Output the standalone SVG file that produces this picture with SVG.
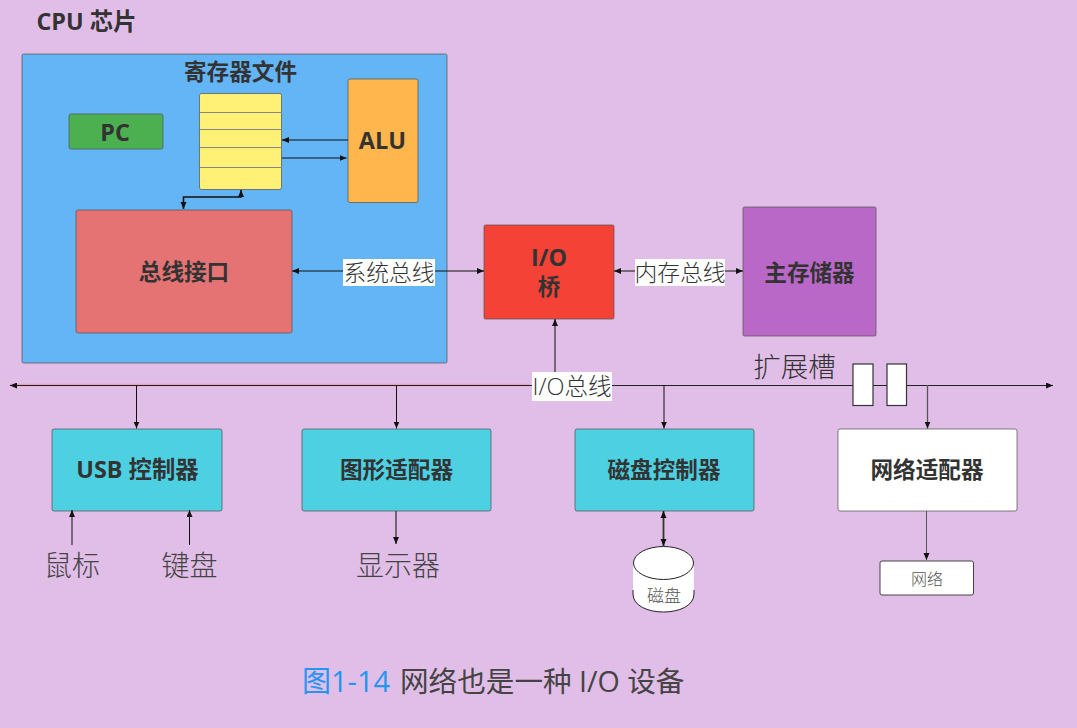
<svg xmlns="http://www.w3.org/2000/svg" width="1077" height="728" viewBox="0 0 1077 728">
<style>
text{font-family:"Open Sans","Noto Sans","Noto Sans CJK SC","Liberation Sans",sans-serif;fill:#333;text-anchor:middle}
.b{font-weight:700;font-size:22.600px}
.bl{font-weight:700;font-size:23.400px}
.l{font-size:28px;font-weight:300;fill:#444}
.s{font-size:22.800px;font-weight:300;fill:#333}
.box{stroke:#555;stroke-width:1;stroke-opacity:.75}
.c{fill:none;stroke:#111;stroke-width:1}
.m{marker-end:url(#a)}
.ms{marker-start:url(#as)}
</style>
<defs>
<marker id="a" markerWidth="8" markerHeight="8" refX="7" refY="3" orient="auto" markerUnits="userSpaceOnUse"><path d="M0 0L7 3L0 6z" fill="#111"/></marker>
<marker id="as" markerWidth="8" markerHeight="8" refX="0" refY="3" orient="auto" markerUnits="userSpaceOnUse"><path d="M7 0L0 3L7 6z" fill="#111"/></marker>
</defs>
<rect width="1077" height="728" fill="#e1bee7"/>
<text id="cpu" x="86.500" y="30" class="bl">CPU 芯片</text>
<g id="cpu-chip"><rect x="22" y="54" width="425" height="309" rx="1.500" fill="#64b5f6" class="box"/></g>
<text x="240.500" y="80" class="b">寄存器文件</text>
<g id="pc"><rect x="69" y="114" width="94" height="35" rx="2" fill="#4caf50" class="box"/><text x="115" y="141" class="bl">PC</text></g>
<g id="regfile">
<rect x="199.500" y="93.500" width="82" height="96" rx="2" fill="#fff176" class="box"/>
<path d="M199.500 112.500H281.500M199.500 129.500H281.500M199.500 147.500H281.500M199.500 167.500H281.500" stroke="#888" fill="none"/>
</g>
<g id="alu"><rect x="348" y="79" width="70" height="123.500" rx="2" fill="#ffb74d" class="box"/><text x="382.500" y="149" font-size="23.500" font-weight="700">ALU</text></g>
<g id="bus-if"><rect x="76" y="210" width="216" height="123" rx="2" fill="#e57373" class="box"/><text x="184" y="280" class="b">总线接口</text></g>
<g id="io-bridge"><rect x="484" y="225" width="130" height="94" rx="1.500" fill="#f44336" class="box"/><text x="549" y="266" class="bl">I/O</text><text x="549" y="295" class="b">桥</text></g>
<g id="memory"><rect x="743" y="207" width="133" height="129" rx="1.500" fill="#ba68c8" class="box"/><text x="809.500" y="281" class="b">主存储器</text></g>
<g id="usb"><rect x="52" y="429" width="170" height="82" rx="2" fill="#4dd0e1" class="box"/><text x="137.500" y="478" class="bl">USB 控制器</text></g>
<g id="gfx"><rect x="302" y="429" width="189" height="82" rx="2" fill="#4dd0e1" class="box"/><text x="396.500" y="478" class="b">图形适配器</text></g>
<g id="disk-ctl"><rect x="575" y="429" width="179" height="82" rx="2" fill="#4dd0e1" class="box"/><text x="664" y="478" class="b">磁盘控制器</text></g>
<g id="net-ad"><rect x="838" y="429" width="179" height="82" rx="2" fill="#fff" class="box"/><text x="927" y="478" class="b">网络适配器</text></g>
<g id="net"><rect x="880" y="561" width="93.500" height="34" rx="2" fill="#fff" stroke="#444" stroke-width="1"/><text x="927" y="585" font-size="16" font-weight="300" style="fill:#555">网络</text></g>
<g id="disk">
<path d="M633 564V594C633 618 694 618 694 594V564z" fill="#fff"/>
<path d="M633 590V594C633 618 694 618 694 594V590" fill="none" stroke="#222"/>
<ellipse cx="663.500" cy="563" rx="30" ry="16.500" fill="#fff" stroke="#222" stroke-width="1"/>
<text x="664" y="602" font-size="17" font-weight="300" style="fill:#555">磁盘</text>
</g>
<g id="connectors">
<path class="c m" d="M348 140H282" stroke-width="1.300"/>
<path class="c m" d="M282 158H346.500"/>
<path class="c m ms" d="M241 190V197H183.500V209" style="stroke-width:1.600"/>
<path class="c m ms" d="M292 271H484"/>
<path class="c m ms" d="M614 271H743"/>
<path class="c m" d="M555 372V319"/>
<path d="M10 385H530" stroke="#e8a0b8" stroke-width="2.500" fill="none"/>
<path class="c m ms" d="M10 385.500H1053" style="stroke:#222"/>
<path class="c m" d="M136.500 385V428.500"/>
<path class="c m" d="M396.500 385V428.500"/>
<path class="c m" d="M664 385V428.500"/>
<path class="c m" d="M927.500 385V428.500" style="stroke:#555;stroke-width:1.300"/>
<path class="c m" d="M72 545V510"/>
<path class="c m" d="M189.500 545V510"/>
<path class="c m" d="M396 511V544" style="stroke:#333;stroke-width:1.300"/>
<path class="c m ms" d="M663.500 511V546" style="stroke:#333;stroke-width:1.800"/>
<path class="c m" d="M926.500 511V560" style="stroke:#555"/>
</g>
<g id="slot1"><rect x="853" y="364" width="20" height="41.500" fill="#fff" stroke="#333" stroke-width="1.200"/></g>
<g id="slot2"><rect x="887" y="364" width="19.500" height="41.500" fill="#fff" stroke="#333" stroke-width="1.200"/></g>
<g id="labels">
<rect x="343" y="259" width="92" height="27" fill="#fff"/>
<text x="389" y="281" class="s">系统总线</text>
<rect x="635" y="259" width="90" height="27" fill="#fff"/>
<text x="680" y="281" class="s">内存总线</text>
<rect x="532" y="372" width="80" height="29" fill="#fff"/>
<text x="572" y="395" class="s" style="font-size:23.500px">I/O总线</text>
<text x="794.500" y="377" font-size="27.500" font-weight="300">扩展槽</text>
<text x="72" y="576" class="l">鼠标</text>
<text x="189.500" y="576" class="l">键盘</text>
<text x="398" y="576" class="l">显示器</text>
<text x="302" y="692" font-size="29" style="text-anchor:start;fill:#2196f3">图1-14</text>
<text x="400" y="692" font-size="28.600" style="text-anchor:start;fill:#444">网络也是一种 I/O 设备</text>
</g>
</svg>
